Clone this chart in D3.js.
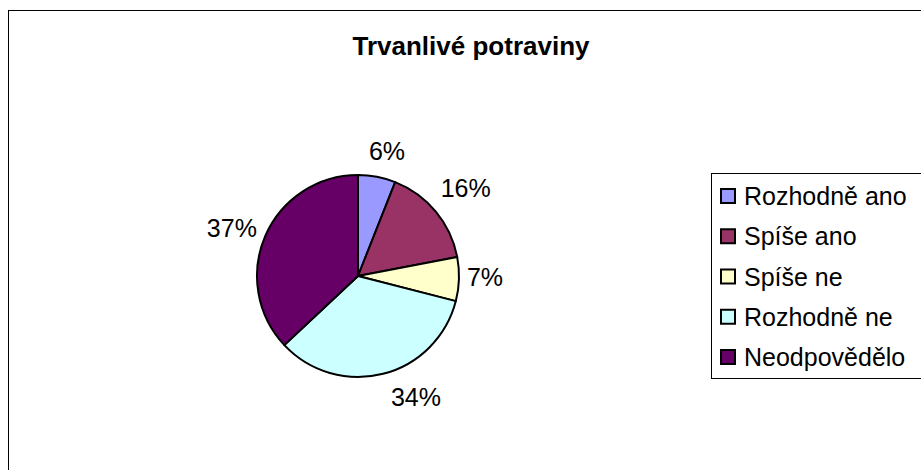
<!DOCTYPE html>
<html><head><meta charset="utf-8">
<script src="https://cdn.jsdelivr.net/npm/d3@7"></script>
<style>
html,body{margin:0;padding:0;background:#fff;}
svg{display:block;}
text{font-family:"Liberation Sans",Arial,sans-serif;fill:#000;}
</style></head>
<body>
<svg id="c" width="921" height="470"></svg>
<script>
const title = "Trvanlivé potraviny";
const categories = ["Rozhodně ano","Spíše ano","Spíše ne","Rozhodně ne","Neodpovědělo"];
const values = [6,16,7,34,37];
const colors = ["#9999FF","#993366","#FFFFCC","#CCFFFF","#660066"];

const svg = d3.select("#c");
// chart frame
svg.append("rect").attr("x",8.5).attr("y",10.5).attr("width",940).attr("height",500)
  .attr("fill","#fff").attr("stroke","#000").attr("stroke-width",1);

svg.append("text").attr("x",471).attr("y",55).attr("text-anchor","middle")
  .attr("font-size",26).attr("font-weight","bold").text(title);

const cx=358, cy=276, r=101;
const pie = d3.pie().sort(null).value(d=>d)(values);
const arc = d3.arc().innerRadius(0).outerRadius(r);
const g = svg.append("g").attr("transform",`translate(${cx},${cy})`);
g.selectAll("path").data(pie).join("path")
  .attr("d",arc).attr("fill",(d,i)=>colors[i])
  .attr("stroke","#000").attr("stroke-width",2).attr("stroke-linejoin","round");

// label layout (radius and angular nudge per slice, degrees)
const labelLayout = [[128,2.3],[139,0.4],[127,-1.3],[134,-11.2],[135,-2.5]];
const total = d3.sum(values);
const ang = (d,i)=>(d.startAngle+d.endAngle)/2+labelLayout[i][1]*Math.PI/180;
g.selectAll("text.lab").data(pie).join("text").attr("class","lab")
  .attr("x",(d,i)=>Math.sin(ang(d,i))*labelLayout[i][0])
  .attr("y",(d,i)=>-Math.cos(ang(d,i))*labelLayout[i][0])
  .attr("dy","0.36em").attr("text-anchor","middle").attr("font-size",25)
  .text(d=>Math.round(d.value/total*100)+"%");

// legend
const lg = svg.append("g");
lg.append("rect").attr("x",711.5).attr("y",173.5).attr("width",240).attr("height",205)
  .attr("fill","#fff").attr("stroke","#000").attr("stroke-width",1);
const ly = d3.scalePoint().domain(categories).range([196,357]);
const it = lg.selectAll("g.it").data(categories).join("g").attr("class","it")
  .attr("transform",d=>`translate(0,${ly(d)})`);
it.append("rect").attr("x",721).attr("y",-7).attr("width",14).attr("height",14)
  .attr("fill",(d,i)=>colors[i]).attr("stroke","#000").attr("stroke-width",2);
it.append("text").attr("x",744).attr("y",0).attr("dy","0.36em").attr("font-size",25).text(d=>d);
</script>
</body></html>
